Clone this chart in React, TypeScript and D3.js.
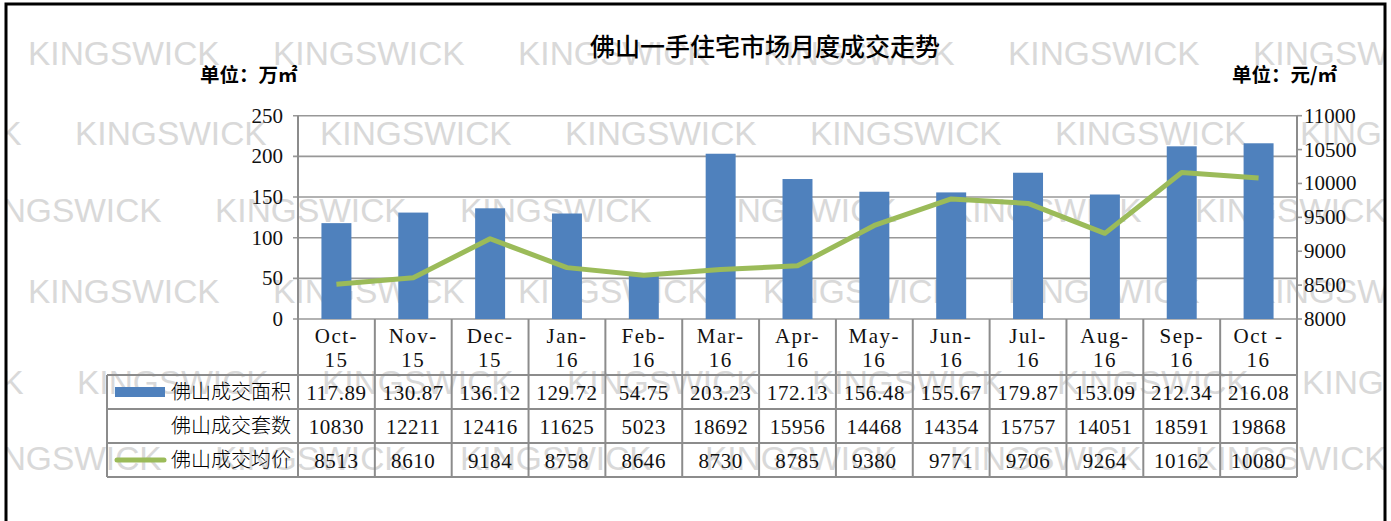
import React from "react";
import * as d3 from "d3";

const monthLabels = ["Oct-", "Nov-", "Dec-", "Jan-", "Feb-", "Mar-", "Apr-", "May-", "Jun-", "Jul-", "Aug-", "Sep-", "Oct -"];
const yearLabels = ["15", "15", "15", "16", "16", "16", "16", "16", "16", "16", "16", "16", "16"];
const areaValues = [117.89, 130.87, 136.12, 129.72, 54.75, 203.23, 172.13, 156.48, 155.67, 179.87, 153.09, 212.34, 216.08];
const unitValues = [10830, 12211, 12416, 11625, 5023, 18692, 15956, 14468, 14354, 15757, 14051, 18591, 19868];
const priceValues = [8513, 8610, 9184, 8758, 8646, 8730, 8785, 9380, 9771, 9706, 9264, 10162, 10080];
const leftTicks = [0, 50, 100, 150, 200, 250];
const rightTicks = [8000, 8500, 9000, 9500, 10000, 10500, 11000];
const seriesNames = ["佛山成交面积", "佛山成交套数", "佛山成交均价"];
const title = "佛山一手住宅市场月度成交走势";
const leftUnit = "单位：万㎡";
const rightUnit = "单位：元/㎡";
const watermark = "KINGSWICK";
const watermarkRows = [
  { y: 65, x0: 28 },
  { y: 145, x0: -170 },
  { y: 222, x0: -30 },
  { y: 303, x0: 28 },
  { y: 394, x0: -168 },
  { y: 470, x0: -30 },
];

const W = 1391;
const H = 521;
const plotL = 298;
const plotR = 1297;
const plotT = 115.7;
const plotB = 319;
const rowTop = 375;
const rowH = 34;
const tableL = 107;

const BLUE = "#4f81bd";
const GREEN = "#9bbb59";
const GRID = "#989898";
const TABLE = "#8c8c8c";
const SERIF = "'Liberation Serif', 'DejaVu Serif', serif";
const CJK = "'Noto Sans CJK SC', 'Noto Sans', sans-serif";

export default function App() {
  const cats = monthLabels.map((m, i) => `${m}${yearLabels[i]}-${i}`);
  const x = d3.scaleBand<string>().domain(cats).range([plotL, plotR]).padding(0);
  const yL = d3.scaleLinear().domain([0, 250]).range([plotB, plotT]);
  const yR = d3.scaleLinear().domain([8000, 11000]).range([plotB, plotT]);
  const bw = x.bandwidth();
  const barW = bw * 0.39;
  const cx = (i: number) => (x(cats[i]) as number) + bw / 2;

  const line = d3
    .line<number>()
    .x((_, i) => cx(i))
    .y((d) => yR(d));

  const xs: number[] = [];
  for (let k = -1; k < 7; k++) xs.push(k * 245);

  const rowsData = [
    areaValues.map((v) => v.toFixed(2)),
    unitValues.map((v) => String(v)),
    priceValues.map((v) => String(v)),
  ];

  return (
    <svg width={W} height={H} style={{ position: "absolute", left: 0, top: 0, background: "#fff" }}>
      <defs>
        <clipPath id="frame">
          <rect x={6} y={4} width={1379} height={H} />
        </clipPath>
      </defs>
      {/* watermarks */}
      <g clipPath="url(#frame)" fill="#d9d9d9" fontFamily="'Liberation Sans', Arial, sans-serif" fontSize={33.5}>
        {watermarkRows.map((r, ri) =>
          xs.map((dx, k) => (
            <text key={`${ri}-${k}`} x={r.x0 + dx} y={r.y}>
              {watermark}
            </text>
          ))
        )}
      </g>

      {/* frame */}
      <path d={`M6,${H + 10} L6,4 L1385,4 L1385,${H + 10}`} fill="none" stroke="#000" strokeWidth={3} />

      {/* title */}
      <text x={765} y={56} textAnchor="middle" fontFamily={CJK} fontSize={25} fontWeight={500} fill="#000">
        {title}
      </text>
      <text x={200} y={82} fontFamily={CJK} fontSize={19.5} fontWeight={700} fill="#000">
        {leftUnit}
      </text>
      <text x={1232} y={82} fontFamily={CJK} fontSize={19.5} fontWeight={700} fill="#000">
        {rightUnit}
      </text>

      {/* gridlines */}
      {leftTicks.map((t) => (
        <line key={t} x1={plotL - 5} x2={plotR} y1={yL(t)} y2={yL(t)} stroke={GRID} strokeWidth={1.6} />
      ))}
      {rightTicks.map((t) => (
        <line key={t} x1={plotR} x2={plotR + 5} y1={yR(t)} y2={yR(t)} stroke={GRID} strokeWidth={1.6} />
      ))}
      <line x1={plotL} x2={plotL} y1={plotT} y2={rowTop + rowH * 3} stroke={TABLE} strokeWidth={2} />
      <line x1={plotR} x2={plotR} y1={plotT} y2={rowTop + rowH * 3} stroke={TABLE} strokeWidth={2} />

      {/* axis labels */}
      <g fontFamily={SERIF} fontSize={21} fill="#111">
        {leftTicks.map((t) => (
          <text key={t} x={283} y={yL(t) + 7} textAnchor="end">
            {t}
          </text>
        ))}
        {rightTicks.map((t) => (
          <text key={t} x={1304} y={yR(t) + 7}>
            {t}
          </text>
        ))}
      </g>

      {/* bars */}
      {areaValues.map((v, i) => (
        <rect key={i} x={cx(i) - barW / 2} y={yL(v)} width={barW} height={plotB - yL(v)} fill={BLUE} />
      ))}

      {/* line */}
      <path d={line(priceValues) || ""} fill="none" stroke={GREEN} strokeWidth={5} strokeLinejoin="round" strokeLinecap="butt" />

      {/* table */}
      <g stroke={TABLE} strokeWidth={2}>
        {cats.map((c) => (
          <line key={c} x1={x(c) as number} x2={x(c) as number} y1={plotB} y2={rowTop + rowH * 3} />
        ))}
        {[0, 1, 2, 3].map((r) => (
          <line key={r} x1={tableL} x2={plotR} y1={rowTop + rowH * r} y2={rowTop + rowH * r} />
        ))}
        <line x1={tableL} x2={tableL} y1={rowTop} y2={rowTop + rowH * 3} />
      </g>

      {/* category labels */}
      <g fontFamily={SERIF} fontSize={21} fill="#111" textAnchor="middle" letterSpacing={1.5}>
        {monthLabels.map((m, i) => (
          <g key={i}>
            <text x={cx(i)} y={343}>
              {m}
            </text>
            <text x={cx(i)} y={367}>
              {yearLabels[i]}
            </text>
          </g>
        ))}
      </g>

      {/* table values */}
      <g fontFamily={SERIF} fontSize={21} fill="#111" textAnchor="middle" letterSpacing={0.6}>
        {rowsData.map((row, r) =>
          row.map((s, i) => (
            <text key={`${r}-${i}`} x={cx(i)} y={rowTop + rowH * r + rowH / 2 + 7.5}>
              {s}
            </text>
          ))
        )}
      </g>

      {/* series names */}
      <g fontFamily={CJK} fontSize={20} fontWeight={300} fill="#000" textAnchor="end">
        {seriesNames.map((n, r) => (
          <text key={n} x={291} y={rowTop + rowH * r + rowH / 2 + 7}>
            {n}
          </text>
        ))}
      </g>
      <rect x={115} y={rowTop + rowH / 2 - 5} width={50} height={10} fill={BLUE} />
      <line x1={117} x2={164} y1={rowTop + rowH * 2.5} y2={rowTop + rowH * 2.5} stroke={GREEN} strokeWidth={5} strokeLinecap="round" />
    </svg>
  );
}
